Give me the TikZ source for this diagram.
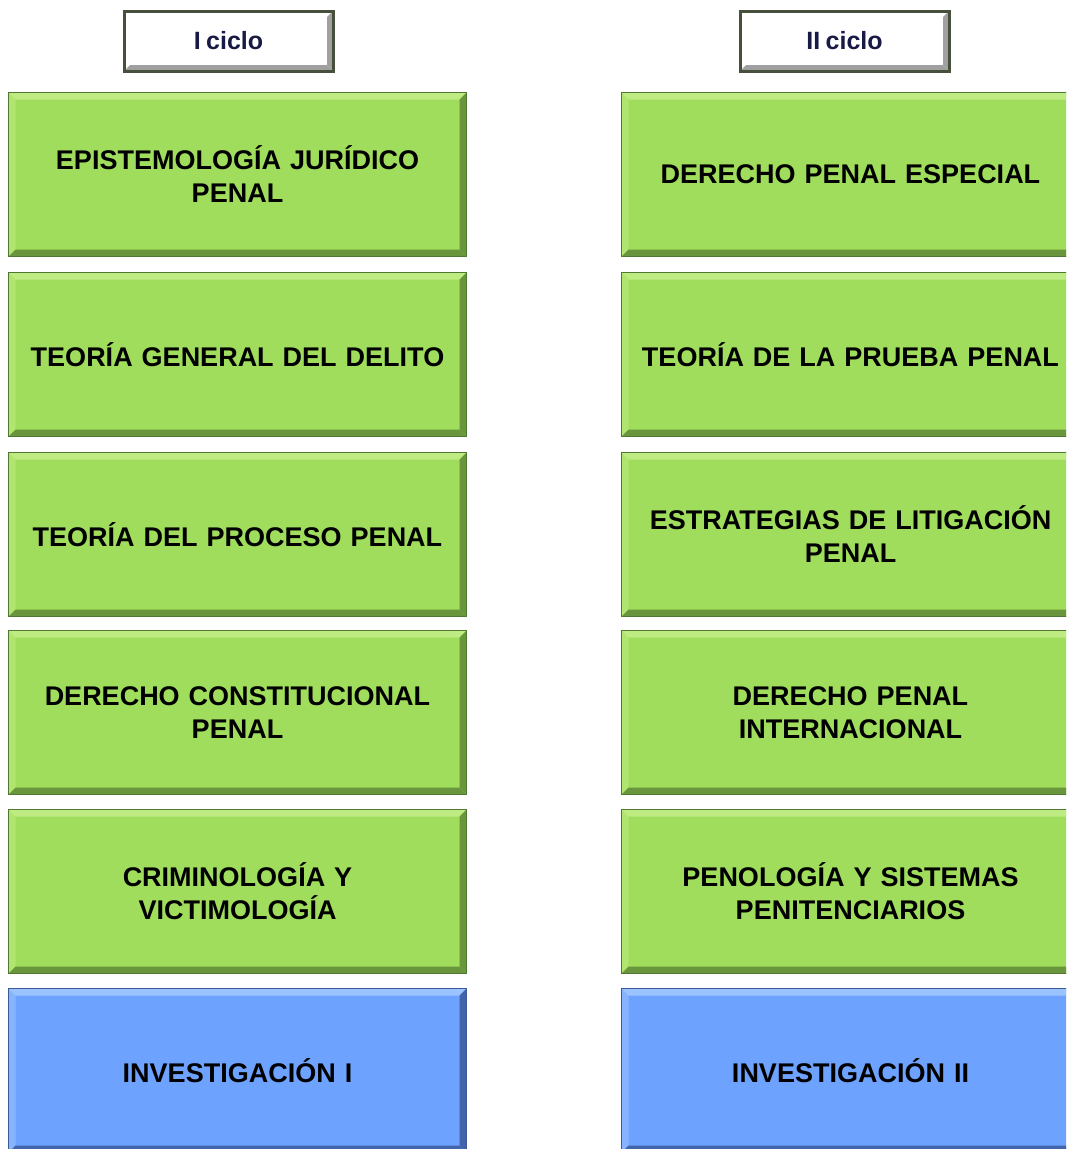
\documentclass[tikz,border=0pt]{standalone}
\usepackage{fontspec}
\setmainfont{Liberation Sans}
\newcommand\tightsp{\spaceskip=0.22em\relax}
\definecolor{gfill}{RGB}{160,221,92}
\definecolor{gborder}{RGB}{80,120,50}
\definecolor{glight}{RGB}{190,236,130}
\definecolor{gdark}{RGB}{105,150,60}
\definecolor{bfill}{RGB}{110,162,255}
\definecolor{bborder}{RGB}{60,90,150}
\definecolor{blight}{RGB}{155,196,255}
\definecolor{bdark}{RGB}{65,100,170}
\definecolor{hborder}{RGB}{70,80,60}
\definecolor{hlight}{RGB}{255,255,255}
\definecolor{hdark}{RGB}{160,160,160}
\definecolor{htext}{RGB}{25,25,70}
\begin{document}
\begin{tikzpicture}[x=1pt,y=-1pt,
  bevel/.style n args={3}{path picture={
    \fill[#1] (path picture bounding box.north west) -- (path picture bounding box.north east)
      -- ([xshift=-#3,yshift=-#3]path picture bounding box.north east)
      -- ([xshift=#3,yshift=-#3]path picture bounding box.north west) -- cycle;
    \fill[#1,opacity=.55] (path picture bounding box.north west)
      -- ([xshift=#3,yshift=-#3]path picture bounding box.north west)
      -- ([xshift=#3,yshift=#3]path picture bounding box.south west)
      -- (path picture bounding box.south west) -- cycle;
    \fill[#2] (path picture bounding box.north east) -- (path picture bounding box.south east)
      -- ([xshift=-#3,yshift=#3]path picture bounding box.south east)
      -- ([xshift=-#3,yshift=-#3]path picture bounding box.north east) -- cycle;
    \fill[#2] (path picture bounding box.south west) -- (path picture bounding box.south east)
      -- ([xshift=-#3,yshift=#3]path picture bounding box.south east)
      -- ([xshift=#3,yshift=#3]path picture bounding box.south west) -- cycle;
  }},
  subj/.style={anchor=north west, minimum width=458pt, minimum height=164pt,
    inner sep=0pt, text width=450pt, align=center,
    font=\fontsize{27}{33}\selectfont\bfseries\tightsp, line width=1pt},
  gbox/.style={subj, fill=gfill, draw=gborder, bevel={glight}{gdark}{7pt}},
  bbox/.style={subj, fill=bfill, draw=bborder, bevel={blight}{bdark}{7pt}},
  hbox/.style={anchor=north west, minimum width=209pt, minimum height=60pt,
    inner sep=0pt, fill=white, draw=hborder, line width=3pt,
    bevel={hlight}{hdark}{6pt}, text=htext,
    font=\fontsize{25}{30}\selectfont\bfseries\tightsp}
]
\useasboundingbox (0,0) rectangle (1066,1149);
\clip (0,0) rectangle (1066,1149);

\node[hbox] (h1) at (122.5,9.5) {I ciclo};
\node[hbox] (h2) at (738.5,9.5) {II ciclo};

\node[gbox] (a1) at (8,92)  {EPISTEMOLOGÍA JURÍDICO\\PENAL};
\node[gbox] (a2) at (8,272) {TEORÍA GENERAL DEL DELITO};
\node[gbox] (a3) at (8,452) {TEORÍA DEL PROCESO PENAL};
\node[gbox] (a4) at (8,630) {DERECHO CONSTITUCIONAL\\PENAL};
\node[gbox] (a5) at (8,809) {CRIMINOLOGÍA Y\\VICTIMOLOGÍA};
\node[bbox] (a6) at (8,988) {INVESTIGACIÓN I};

\node[gbox] (b1) at (621,92)  {DERECHO PENAL ESPECIAL};
\node[gbox] (b2) at (621,272) {TEORÍA DE LA PRUEBA PENAL};
\node[gbox] (b3) at (621,452) {ESTRATEGIAS DE LITIGACIÓN\\PENAL};
\node[gbox] (b4) at (621,630) {DERECHO PENAL\\INTERNACIONAL};
\node[gbox] (b5) at (621,809) {PENOLOGÍA Y SISTEMAS\\PENITENCIARIOS};
\node[bbox] (b6) at (621,988) {INVESTIGACIÓN II};
\end{tikzpicture}
\end{document}
